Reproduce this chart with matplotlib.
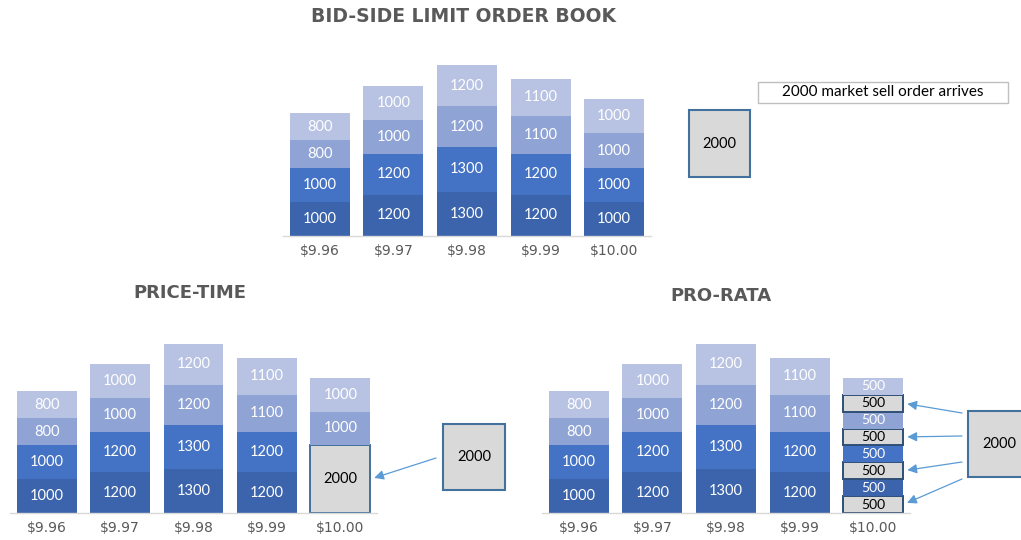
import matplotlib
matplotlib.use("Agg")
import matplotlib.pyplot as plt
from matplotlib.patches import Rectangle
import numpy as np

# ---------------- data ----------------
prices = ["$9.96", "$9.97", "$9.98", "$9.99", "$10.00"]
order1 = [1000, 1200, 1300, 1200, 1000]   # oldest (bottom)
order2 = [1000, 1200, 1300, 1200, 1000]
order3 = [800, 1000, 1200, 1100, 1000]
order4 = [800, 1000, 1200, 1100, 1000]    # newest (top)
market_sell = 2000
titles = ["BID-SIDE LIMIT ORDER BOOK", "PRICE-TIME", "PRO-RATA"]
arrival_text = "2000 market sell order arrives"

# ---------------- style ----------------
level_colors = ["#3B64AD", "#4472C4", "#8FA3D5", "#B8C2E3"]
grey_fill = "#D9D9D9"
grey_edge = "#41719C"
arrow_col = "#5B9BD5"
title_col = "#595959"
tick_col = "#595959"
W, H = 1021, 540
BAR_W = 0.815

fig = plt.figure(figsize=(W / 100, H / 100), dpi=100)

def fx(px):
    return px / W

def fy(py):
    return 1 - py / H

def make_axes(left_px, right_px, base_px, px_per_unit, ymax=5200):
    bottom = fy(base_px)
    height = ymax * px_per_unit / H
    ax = fig.add_axes([fx(left_px), bottom, fx(right_px - left_px), height])
    ax.set_xlim(-0.5, 4.5)
    ax.set_ylim(0, ymax)
    for s in ["top", "right", "left"]:
        ax.spines[s].set_visible(False)
    ax.spines["bottom"].set_color("#D9D9D9")
    ax.spines["bottom"].set_linewidth(1.0)
    ax.set_yticks([])
    ax.set_xticks(np.arange(len(prices)))
    ax.set_xticklabels(prices, fontsize=10, color=tick_col, family="DejaVu Sans")
    ax.tick_params(axis="x", length=0, pad=6)
    ax.patch.set_alpha(0)
    return ax

def seg(ax, x, bottom, h, color, label_color="white", edge=None, fs=10.5):
    ax.bar(x, h, bottom=bottom, width=BAR_W, color=color,
           edgecolor=edge if edge else "none", linewidth=1.4 if edge else 0)
    ax.text(x, bottom + h / 2, str(int(h)), ha="center", va="center",
            fontsize=fs, color=label_color, family="Lato")

levels = [order1, order2, order3, order4]
x = np.arange(len(prices))

# ---------------- top chart ----------------
ax_top = make_axes(283, 651, 236, 0.0342)
for i in range(len(prices)):
    b = 0
    for lv, col in zip(levels, level_colors):
        seg(ax_top, x[i], b, lv[i], col)
        b += lv[i]

# ---------------- price-time ----------------
ax_pt = make_axes(10, 377, 513, 0.0338)
last = len(prices) - 1
for i in range(len(prices)):
    b = 0
    if i == last:
        seg(ax_pt, x[i], 0, market_sell, grey_fill, "black", grey_edge)
        b = market_sell
        filled = 0
        for lv, col in zip(levels, level_colors):
            v = lv[i]
            if filled + v <= market_sell:
                filled += v
                continue
            seg(ax_pt, x[i], b, v, col)
            b += v
    else:
        for lv, col in zip(levels, level_colors):
            seg(ax_pt, x[i], b, lv[i], col)
            b += lv[i]

# ---------------- pro-rata ----------------
ax_pr = make_axes(542, 910, 513, 0.0338)
total_last = sum(lv[last] for lv in levels)
grey_mids = []
for i in range(len(prices)):
    b = 0
    for lv, col in zip(levels, level_colors):
        if i == last:
            fill = market_sell * lv[i] / total_last
            seg(ax_pr, x[i], b, fill, grey_fill, "black", "#2F4F75", fs=10)
            grey_mids.append(b + fill / 2)
            b += fill
            seg(ax_pr, x[i], b, lv[i] - fill, col, fs=10)
            b += lv[i] - fill
        else:
            seg(ax_pr, x[i], b, lv[i], col)
            b += lv[i]

# ---------------- titles ----------------
fig.text(fx(463), fy(17), titles[0], ha="center", va="center", fontsize=13.5,
         fontweight="bold", color=title_col, family="DejaVu Sans")
fig.text(fx(190), fy(293), titles[1], ha="center", va="center", fontsize=13,
         fontweight="bold", color=title_col, family="DejaVu Sans")
fig.text(fx(721), fy(296), titles[2], ha="center", va="center", fontsize=13,
         fontweight="bold", color=title_col, family="DejaVu Sans")

# ---------------- annotation boxes ----------------
def box(l, t, r, b, text, fc=grey_fill, ec=grey_edge, lw=1.5, fs=10, tx=None):
    rect = Rectangle((fx(l), fy(b)), fx(r - l), (b - t) / H, transform=fig.transFigure,
                     facecolor=fc, edgecolor=ec, linewidth=lw, clip_on=False)
    fig.add_artist(rect)
    cx = (l + r) / 2 if tx is None else tx
    fig.text(fx(cx), fy((t + b) / 2), text, ha="center", va="center",
             fontsize=fs, color="black", family="Lato")

box(758, 82, 1008, 103, arrival_text, fc="white", ec="#BFBFBF", lw=1.0, fs=11)
box(689, 110, 750, 177, str(market_sell), fs=10.5)
box(443, 424, 505, 490, str(market_sell), fs=10.5)
box(968, 411, 1030, 477, str(market_sell), fs=10.5)

arrow_kw = dict(arrowstyle="-|>", color=arrow_col, lw=0.9, mutation_scale=14,
                shrinkA=0, shrinkB=3)

# price-time arrow
ax_pt.annotate("", xy=(x[last] + BAR_W / 2, market_sell / 2), xycoords="data",
               xytext=(fx(436), fy(458)), textcoords="figure fraction",
               arrowprops=arrow_kw)

# pro-rata arrows
tails = [413, 436, 462, 479]
for ym, ty in zip(grey_mids[::-1], tails):
    ax_pr.annotate("", xy=(x[last] + BAR_W / 2, ym), xycoords="data",
                   xytext=(fx(962), fy(ty)), textcoords="figure fraction",
                   arrowprops=arrow_kw)

fig.savefig("out.png", dpi=100)
